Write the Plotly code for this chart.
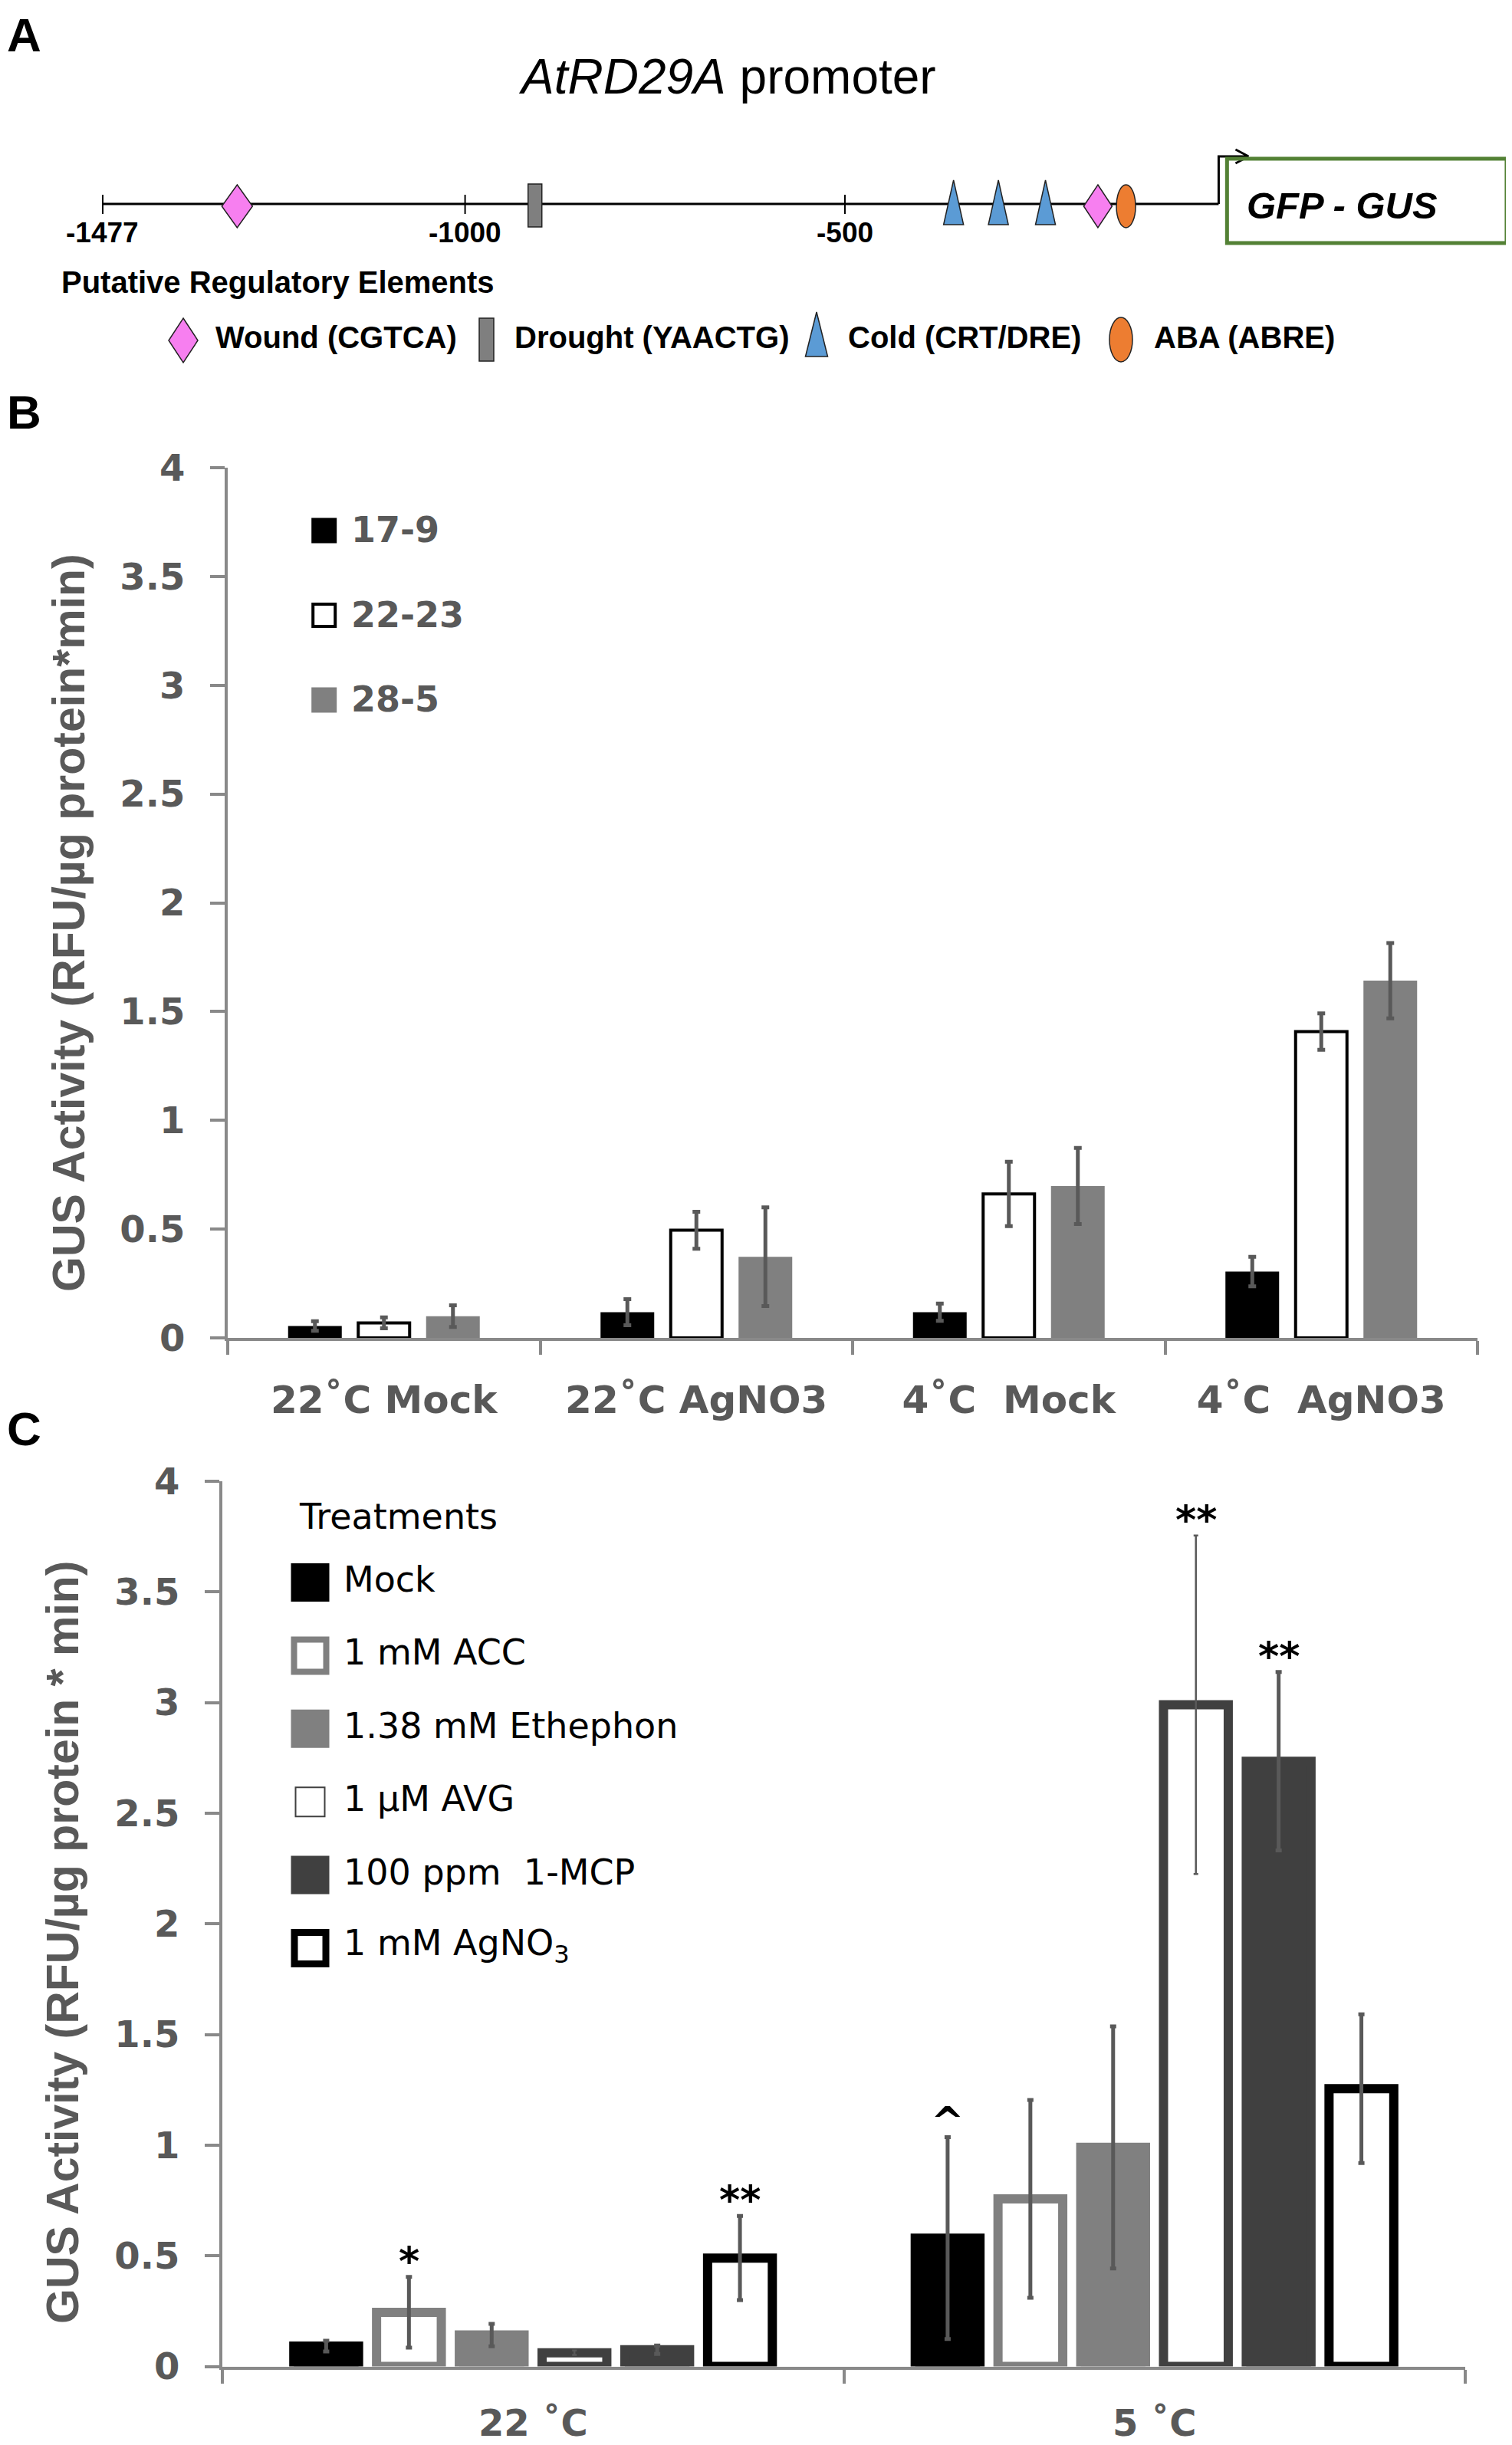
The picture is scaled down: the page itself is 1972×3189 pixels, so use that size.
import plotly.graph_objects as go

W, H = 1972, 3189
OFF = 8  # page body margin compensation (pixels)


def px(x):
    return (x - OFF) / W


def py(y):
    return 1 - (y - OFF) / H


# ---------------- Panel A data (positions in bp) ----------------
promoter_start = -1477
tss = -8
scale_ticks = [-1477, -1000, -500]
wound_pos = [-1300, -167]
drought_pos = [-908]
cold_pos = [-357, -298, -236]
aba_pos = [-130]
gene_box = [3, 371]
element_names = ["Wound (CGTCA)", "Drought (YAACTG)", "Cold (CRT/DRE)", "ABA (ABRE)"]

# ---------------- Panel B data ----------------
b_cats = ["22˚C Mock", "22˚C AgNO3", "4˚C\u00a0 Mock", "4˚C\u00a0 AgNO3"]
b_lines = ["17-9", "22-23", "28-5"]
b_17_9 = [0.055, 0.118, 0.118, 0.305]
b_17_9_err = [0.022, 0.06, 0.04, 0.068]
b_22_23 = [0.069, 0.495, 0.662, 1.408]
b_22_23_err = [0.025, 0.085, 0.148, 0.084]
b_28_5 = [0.10, 0.373, 0.698, 1.642]
b_28_5_err = [0.05, 0.227, 0.175, 0.173]

# ---------------- Panel C data ----------------
c_cats = ["22 ˚C", "5 ˚C"]
c_treatments = ["Mock", "1 mM ACC", "1.38 mM Ethephon", "1 µM AVG", "100 ppm\u00a0 1-MCP", "1 mM AgNO<sub>3</sub>"]
c_mock = [0.092, 0.58]
c_mock_err = [0.024, 0.456]
c_acc = [0.245, 0.757]
c_acc_err = [0.16, 0.447]
c_eth = [0.142, 0.99]
c_eth_err = [0.051, 0.547]
c_avg = [0.062, 2.99]
c_avg_err = [0.01, 0.765]
c_mcp = [0.076, 2.735]
c_mcp_err = [0.019, 0.403]
c_agno3 = [0.49, 1.255]
c_agno3_err = [0.19, 0.336]
c_mock_sig = ["", "^"]
c_acc_sig = ["*", ""]
c_eth_sig = ["", ""]
c_avg_sig = ["", "**"]
c_mcp_sig = ["", "**"]
c_agno3_sig = ["**", ""]

GRAY_TXT = "#595959"
AX_GRAY = "#898989"
ERR = "#595959"
DJB = dict(family="DejaVu Sans", weight="bold")
LIB = "Liberation Sans"

fig = go.Figure()

# ---------------- Panel B bars ----------------
b_vals = [b_17_9, b_22_23, b_28_5]
b_errs = [b_17_9_err, b_22_23_err, b_28_5_err]
b_fill = ["#000000", "#FFFFFF", "#808080"]
b_lw = [0, 4, 0]
b_pitch = 90 / 407.5
for i in range(3):
    w = 0.1718 if b_lw[i] == 0 else 0.1644
    c = (i - 1) * b_pitch
    fig.add_trace(go.Bar(
        x=b_cats, y=b_vals[i], name=b_lines[i], width=w, offset=c - w / 2,
        marker=dict(color=b_fill[i], line=dict(color="#000000", width=b_lw[i])),
        error_y=dict(type="data", array=b_errs[i], color=ERR, thickness=5, width=5),
        xaxis="x", yaxis="y", showlegend=False))

# ---------------- Panel C bars ----------------
c_vals = [c_mock, c_acc, c_eth, c_avg, c_mcp, c_agno3]
c_errs = [c_mock_err, c_acc_err, c_eth_err, c_avg_err, c_mcp_err, c_agno3_err]
c_sigs = [c_mock_sig, c_acc_sig, c_eth_sig, c_avg_sig, c_mcp_sig, c_agno3_sig]
c_fill = ["#000000", "#FFFFFF", "#808080", "#FFFFFF", "#404040", "#FFFFFF"]
c_line = ["#000000", "#808080", "#808080", "#404040", "#404040", "#000000"]
c_err_th = [5, 5, 5, 2.5, 5, 5]
c_pitch = 108 / 811
c_w = (96.5 - 12) / 811
annotations = []
for j in range(6):
    c = (j - 2.5) * c_pitch
    fig.add_trace(go.Bar(
        x=c_cats, y=c_vals[j], name=c_treatments[j], width=c_w, offset=c - c_w / 2,
        marker=dict(color=c_fill[j], line=dict(color=c_line[j], width=12)),
        error_y=dict(type="data", array=c_errs[j], color=ERR, thickness=c_err_th[j],
                     width=4 if c_err_th[j] > 3 else 3),
        xaxis="x2", yaxis="y2", showlegend=False))
    for k in range(2):
        if c_sigs[j][k]:
            annotations.append(dict(
                x=k + c, y=c_vals[j][k] + c_errs[j][k], xref="x2", yref="y2",
                text=c_sigs[j][k], showarrow=False, xanchor="center", yanchor="bottom", yshift=-11,
                font=dict(size=52, color="#000000", **DJB)))

# ---------------- Panel A drawing ----------------
shapes = []
A_REF = dict(xref="x3", yref="y3")
shapes.append(dict(type="line", x0=promoter_start, x1=tss, y0=0, y1=0,
                   line=dict(color="#000000", width=3), **A_REF))
for t in scale_ticks:
    shapes.append(dict(type="line", xsizemode="scaled", x0=t, x1=t, ysizemode="pixel",
                       yanchor=0, y0=-13, y1=12, line=dict(color="#000000", width=2), **A_REF))
    annotations.append(dict(x=t, y=0, xref="x3", yref="y3", yshift=-37, text=str(t),
                            xanchor="center", yanchor="middle", showarrow=False,
                            font=dict(family=LIB, size=37, color="#000000", weight="bold")))


def diamond(w, top, bot):
    mid = (top + bot) / 2
    return f"M0,{top} L{w/2},{mid} L0,{bot} L{-w/2},{mid} Z"


def tri(w, top, bot):
    return f"M{-w/2},{bot} L0,{top} L{w/2},{bot} Z"


PINK, DGRAY, BLUE, ORANGE = "#F77FF0", "#7F7F7F", "#5B9BD5", "#ED7D31"
OUT = dict(color="#222222", width=1.5)
for i, p in enumerate(wound_pos):
    wdt = 40 if i == 0 else 37
    shapes.append(dict(type="path", xsizemode="pixel", ysizemode="pixel", xanchor=p, yanchor=0,
                       path=diamond(wdt, 25, -31), fillcolor=PINK, line=OUT, **A_REF))
for p in drought_pos:
    shapes.append(dict(type="rect", xsizemode="pixel", ysizemode="pixel", xanchor=p, yanchor=0,
                       x0=-9, x1=9, y0=-30, y1=26, fillcolor=DGRAY, line=OUT, **A_REF))
for p in cold_pos:
    shapes.append(dict(type="path", xsizemode="pixel", ysizemode="pixel", xanchor=p, yanchor=0,
                       path=tri(26, 31, -27), fillcolor=BLUE, line=OUT, **A_REF))
for p in aba_pos:
    shapes.append(dict(type="circle", xsizemode="pixel", ysizemode="pixel", xanchor=p, yanchor=0,
                       x0=-12.5, x1=12.5, y0=-31, y1=25, fillcolor=ORANGE, line=OUT, **A_REF))
# transcription start arrow
shapes.append(dict(type="path", xsizemode="pixel", ysizemode="pixel", xanchor=tss, yanchor=0,
                   path="M0,0 L0,62 L39,62 M39,62 L22,71 M39,62 L22,53",
                   line=dict(color="#000000", width=3), **A_REF))
# reporter box
shapes.append(dict(type="rect", x0=gene_box[0], x1=gene_box[1], ysizemode="pixel", yanchor=0,
                   y0=-51, y1=59, line=dict(color="#538135", width=5), fillcolor="rgba(0,0,0,0)", **A_REF))
annotations.append(dict(x=gene_box[0], y=0, xref="x3", yref="y3", xanchor="left", yanchor="middle",
                        xshift=24, yshift=-2, text="GFP - GUS", showarrow=False,
                        font=dict(family=LIB, size=49, color="#000000", weight="bold", style="italic")))

# Panel A legend row
leg_shape_x = [239, 634.5, 1065, 1462]
leg_text_x = [279, 669, 1104, 1503]
for i, name in enumerate(element_names):
    base = dict(xref="paper", yref="paper", xsizemode="pixel", ysizemode="pixel",
                xanchor=px(leg_shape_x[i]), yanchor=py(444))
    if i == 0:
        shapes.append(dict(type="path", path=diamond(38, 29, -29), fillcolor=PINK, line=OUT, **base))
    elif i == 1:
        shapes.append(dict(type="rect", x0=-9.5, x1=9.5, y0=-27, y1=29, fillcolor=DGRAY, line=OUT, **base))
    elif i == 2:
        shapes.append(dict(type="path", path=tri(29, 37, -21), fillcolor=BLUE, line=OUT, **base))
    else:
        shapes.append(dict(type="circle", x0=-15, x1=15, y0=-28, y1=30, fillcolor=ORANGE, line=OUT, **base))
    annotations.append(dict(x=px(leg_text_x[i]), y=py(440), xref="paper", yref="paper",
                            xanchor="left", yanchor="middle", text=name, showarrow=False,
                            font=dict(family=LIB, size=40, color="#000000", weight="bold")))

annotations.append(dict(x=px(78), y=py(368), xref="paper", yref="paper", xanchor="left", yanchor="middle",
                        text="Putative Regulatory Elements", showarrow=False,
                        font=dict(family=LIB, size=40, color="#000000", weight="bold")))
annotations.append(dict(x=px(948), y=py(100), xref="paper", yref="paper", xanchor="center", yanchor="middle",
                        text="<i>AtRD29A</i> promoter", showarrow=False,
                        font=dict(family=LIB, size=64, color="#000000")))

# Panel labels
for lab, (lx, ly) in zip(["A", "B", "C"], [(31, 45), (31, 537), (31, 1863)]):
    annotations.append(dict(x=px(lx), y=py(ly), xref="paper", yref="paper", text=lab, showarrow=False,
                            xanchor="center", yanchor="middle",
                            font=dict(family=LIB, size=62, color="#000000", weight="bold")))

# ---------------- Panel B legend ----------------
for i, name in enumerate(b_lines):
    cy = 692 + i * 110.5
    half = 16.5 if b_lw[i] == 0 else 14.5
    shapes.append(dict(type="rect", xref="paper", yref="paper",
                       x0=px(422.7 - half), x1=px(422.7 + half), y0=py(cy + half), y1=py(cy - half),
                       fillcolor=b_fill[i], line=dict(color="#000000", width=b_lw[i])))
    annotations.append(dict(x=px(456), y=py(cy - 1), xref="paper", yref="paper",
                            xanchor="left", yanchor="middle",
                            text=name, showarrow=False, font=dict(size=46, color=GRAY_TXT, **DJB)))

# ---------------- Panel C legend ----------------
annotations.append(dict(x=px(388), y=py(1978), xref="paper", yref="paper", xanchor="left", yanchor="middle",
                        text="Treatments", showarrow=False,
                        font=dict(family="DejaVu Sans", size=46, color="#000000")))
c_leg_lw = [0, 8, 0, 2, 0, 9]
for j, name in enumerate(c_treatments):
    cy = 2064 + j * 95.4
    outer = 20 if j == 3 else 25
    half = outer - c_leg_lw[j] / 2
    shapes.append(dict(type="rect", xref="paper", yref="paper",
                       x0=px(404.5 - half), x1=px(404.5 + half), y0=py(cy + half), y1=py(cy - half),
                       fillcolor=c_fill[j], line=dict(color=c_line[j], width=c_leg_lw[j])))
    annotations.append(dict(x=px(446), y=py(cy - 4), xref="paper", yref="paper",
                            xanchor="left", yanchor="middle", text=name, showarrow=False,
                            font=dict(family="DejaVu Sans", size=46, color="#000000")))

# ---------------- Y-axis titles ----------------
annotations.append(dict(x=px(90), y=py(1204), xref="paper", yref="paper", textangle=-90,
                        xanchor="center", yanchor="middle",
                        text="GUS Activity (RFU/µg protein*min)", showarrow=False,
                        font=dict(family=LIB, size=59, color=GRAY_TXT, weight="bold")))
annotations.append(dict(x=px(82), y=py(2533), xref="paper", yref="paper", textangle=-90,
                        xanchor="center", yanchor="middle",
                        text="GUS Activity (RFU/µg protein * min)", showarrow=False,
                        font=dict(family=LIB, size=59, color=GRAY_TXT, weight="bold")))

common_y = dict(range=[0, 4], dtick=0.5, tick0=0, ticks="outside", ticklen=19, tickwidth=4,
                tickcolor=AX_GRAY, showline=True, linewidth=4, linecolor=AX_GRAY, showgrid=False,
                zeroline=False, tickfont=dict(size=48, color=GRAY_TXT, **DJB), ticklabelstandoff=23,
                automargin=False)
common_x = dict(type="category", ticks="outside", tickson="boundaries", ticklen=18, tickwidth=4,
                tickcolor=AX_GRAY, showline=True, linewidth=4, linecolor=AX_GRAY, showgrid=False,
                zeroline=False, automargin=False)

a_scale = 0.9908  # px per bp in panel A
fig.update_layout(
    width=W, height=H, autosize=False,
    margin=dict(l=0, r=0, t=0, b=0, pad=0),
    paper_bgcolor="white", plot_bgcolor="white",
    barmode="overlay", showlegend=False,
    xaxis=dict(domain=[px(297), px(1927)], anchor="y", range=[-0.5, 3.5],
               tickfont=dict(size=50, color=GRAY_TXT, **DJB), ticklabelstandoff=34, **common_x),
    yaxis=dict(domain=[py(1745), py(610)], anchor="x", **common_y),
    xaxis2=dict(domain=[px(290), px(1911)], anchor="y2", range=[-0.5, 1.5],
                tickfont=dict(size=48, color=GRAY_TXT, **DJB), ticklabelstandoff=29, **common_x),
    yaxis2=dict(domain=[py(3086.6), py(1932)], anchor="x2", **common_y),
    xaxis3=dict(domain=[0, 1], anchor="y3",
                range=[-1612.2 + OFF / a_scale, -1612.2 + OFF / a_scale + W / a_scale],
                visible=False, automargin=False),
    yaxis3=dict(domain=[py(366), py(166)], anchor="x3", range=[-1, 1], visible=False, automargin=False),
    shapes=shapes,
    annotations=annotations,
)

fig.write_html("out.html")
